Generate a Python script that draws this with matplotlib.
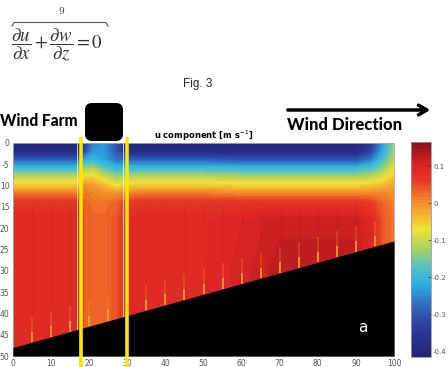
import numpy as np
import matplotlib
matplotlib.use('Agg')
import matplotlib.pyplot as plt
from matplotlib.colors import LinearSegmentedColormap
from matplotlib.patches import FancyBboxPatch
from matplotlib.lines import Line2D

# grid of the u field (depth rows x station columns)
depth_levels = [0, 2, 4, 6, 8, 10, 12, 14, 18, 30, 50]
x_stations = [0, 17, 19, 21, 24, 27, 30, 33, 50, 60, 70, 90, 94, 97, 100]

u_open = [-0.41, -0.39, -0.29, -0.19, -0.11, -0.05, 0.02, 0.07, 0.09, 0.09, 0.09]
u_farm_w = [-0.34, -0.31, -0.22, -0.13, -0.06, 0.00, 0.02, 0.03, 0.03, 0.03, 0.03]
u_farm_c = [-0.26, -0.24, -0.20, -0.12, -0.06, -0.01, 0.01, 0.02, 0.03, 0.03, 0.03]
u_farm_m = [-0.24, -0.24, -0.23, -0.17, -0.10, -0.04, 0.00, 0.02, 0.03, 0.03, 0.03]
u_farm_e = [-0.30, -0.30, -0.27, -0.20, -0.13, -0.07, 0.00, 0.03, 0.04, 0.04, 0.04]
u_lee = [-0.40, -0.38, -0.29, -0.19, -0.12, -0.06, 0.01, 0.06, 0.08, 0.08, 0.08]
u_mid = [-0.41, -0.39, -0.30, -0.20, -0.12, -0.06, 0.01, 0.07, 0.10, 0.105, 0.10]
u_far = [-0.41, -0.39, -0.30, -0.20, -0.12, -0.06, 0.01, 0.07, 0.115, 0.125, 0.12]
u_edge1 = [-0.35, -0.33, -0.26, -0.18, -0.11, -0.05, 0.01, 0.06, 0.09, 0.10, 0.10]
u_edge2 = [-0.24, -0.22, -0.19, -0.14, -0.09, -0.04, 0.01, 0.03, 0.04, 0.04, 0.04]
u_edge3 = [-0.14, -0.13, -0.11, -0.08, -0.05, -0.02, 0.00, 0.01, 0.02, 0.02, 0.02]

station_profiles = [u_open, u_open, u_farm_w, u_farm_c, u_farm_m, u_farm_e, u_lee,
                    u_open, u_open, u_mid, u_far, u_far, u_edge1, u_edge2, u_edge3]

# sloping ground (black)
terrain_x = [0, 100]
terrain_top = [48, 23]

# wind farm box edges and turbine streaks
farm_edges = [17.8, 29.9]
farm_box = [16.8, 29.0]
streak_x = [5, 10, 15, 20, 25, 30, 35, 40, 45, 50, 55, 60, 65, 70, 75, 80, 85, 90, 95]

x_ticks = [0, 10, 20, 30, 40, 50, 60, 70, 80, 90, 100]
y_ticks = [0, 5, 10, 15, 20, 25, 30, 35, 40, 45, 50]
y_labels = ['0', '-5', '10', '15', '20', '25', '30', '35', '40', '45', '50']
cbar_ticks = [0.1, 0, -0.1, -0.2, -0.3, -0.4]
cbar_labels = ['0.1', '0', '-0.1', '-0.2', '-0.3', '-0.4']
vmin, vmax = -0.416, 0.165

# scanned-looking jet palette (value -> colour)
cmap_values = [-0.416, -0.36, -0.31, -0.26, -0.22, -0.17, -0.12, -0.07, -0.02,
               0.02, 0.06, 0.10, 0.13, 0.165]
cmap_colors = ['#232678', '#283291', '#2d50aa', '#327dc8', '#28afe6', '#5ac3be',
               '#afd25f', '#f0e137', '#f5a52d', '#f07828', '#e63c23', '#de2326',
               '#b91c1e', '#7d1619']

W, H = 448, 367


def fx(x):
    return x / W


def fy(y):
    return 1 - y / H


span = vmax - vmin
cmap = LinearSegmentedColormap.from_list(
    'scan_jet', [((v - vmin) / span, c) for v, c in zip(cmap_values, cmap_colors)])

fig = plt.figure(figsize=(W / 100, H / 100), dpi=100)
ax = fig.add_axes([fx(13), fy(356), (394 - 13) / W, (356 - 143) / H])

U = np.column_stack(station_profiles)
levels = np.linspace(vmin, vmax, 64)
cs = ax.contourf(x_stations, depth_levels, U, levels=levels, cmap=cmap)

# streaks above the ground at each turbine column
ground = np.interp(streak_x, terrain_x, terrain_top)
ax.vlines(streak_x, 14, ground, color='#900000', lw=0.8, alpha=0.08, zorder=2)
ax.vlines(streak_x, ground - 6, ground - 2, color='#ff9a20', lw=1.1, alpha=0.35, zorder=2)
ax.vlines(streak_x, ground - 2.5, ground, color='#ffb030', lw=1.3, alpha=0.85, zorder=2)

for x in farm_box:
    ax.plot([x, x], [0, 50], color='#e8e8e8', lw=0.6, zorder=2.2)

ax.fill_between(terrain_x, terrain_top, 50, color='black', lw=0, zorder=3)

for x in farm_edges:
    ax.plot([x, x], [-1.3, 52.8], color='#ffe600', lw=2.6, clip_on=False,
            zorder=6, solid_capstyle='butt')

ax.text(91.9, 43.3, 'a', color='white', fontsize=11, ha='center', va='center', zorder=7)

ax.set_xlim(0, 100)
ax.set_ylim(50, 0)
ax.set_xticks(x_ticks)
ax.set_yticks(y_ticks)
ax.set_yticklabels(y_labels)
ax.tick_params(length=0, labelsize=5.5, labelcolor='#555555', pad=2.5)
for s in ax.spines.values():
    s.set_color('#aaaaaa')
    s.set_linewidth(0.6)
ax.set_title('u component [m s$^{-1}$]', fontsize=6, fontweight='bold', pad=3)

# colorbar
cax = fig.add_axes([fx(411), fy(357), 20 / W, (357 - 142) / H])
cb = fig.colorbar(cs, cax=cax, ticks=cbar_ticks)
cb.ax.set_yticklabels(cbar_labels)
cb.outline.set_edgecolor('#999999')
cb.outline.set_linewidth(0.6)
cax.tick_params(direction='in', length=2, width=0.5, color='#333333',
                labelsize=5, labelcolor='#555555', pad=1.5)

# annotations around the plot
box = FancyBboxPatch((0.85, (H - 141) / 100), 0.38, 0.38,
                     boxstyle='round,pad=0,rounding_size=0.07',
                     transform=fig.dpi_scale_trans, fc='black', ec='none')
fig.add_artist(box)

fig.text(fx(0), fy(121), 'Wind Farm', ha='left', va='center', fontsize=11.2,
         fontweight='black', family='Lato')
fig.text(fx(287), fy(125), 'Wind Direction', ha='left', va='center', fontsize=12,
         fontweight='black', family='Lato')
ax.annotate('', xy=(fx(433), fy(110)), xytext=(fx(285), fy(110)),
            xycoords='figure fraction', textcoords='figure fraction',
            arrowprops=dict(arrowstyle='->,head_length=0.6,head_width=0.35',
                            lw=2.5, color='black'))

fig.text(fx(198), fy(84), 'Fig. 3', ha='center', va='center', fontsize=8.5,
         color='#222222', family='Liberation Sans')

fig.text(fx(11), fy(45), r'$\dfrac{\partial u}{\partial x}+\dfrac{\partial w}{\partial z}=0$',
         fontsize=13.5, ha='left', va='center', math_fontfamily='stix', color='#333333')
fig.text(fx(61), fy(12), '9', fontsize=6.5, family='DejaVu Serif', ha='center',
         va='center', color='#444444')
fig.add_artist(Line2D([fx(12), fx(14), fx(106), fx(108)], [fy(26), fy(22.5), fy(22.5), fy(26)],
                      lw=0.8, color='#555555'))

fig.savefig('out.png', dpi=100)
